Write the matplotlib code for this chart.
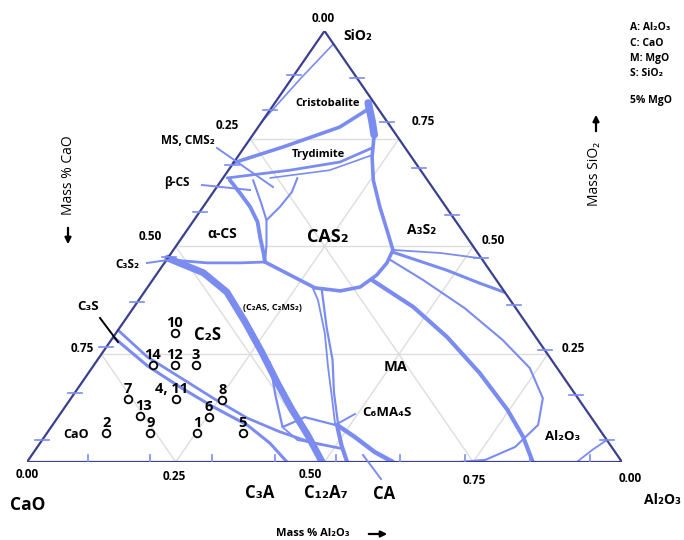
import matplotlib.pyplot as plt
import numpy as np

plt.rcParams['font.family'] = ['Open Sans', 'DejaVu Sans']

# Liquidus boundaries as (Al2O3, SiO2) mass fractions, CaO is the remainder
cristobalite_edge = [(0.03, 0.97), (0.015, 0.89), (0.0, 0.79)]
cristobalite_tridymite = [(0.0, 0.694), (0.065, 0.731), (0.137, 0.777), (0.163, 0.817)]
tridymite_lower = [(0.007, 0.659), (0.103, 0.677), (0.178, 0.696), (0.216, 0.729)]
tridymite_lower_2 = [(0.079, 0.659), (0.170, 0.677), (0.224, 0.712)]
silica_mullite = [(0.157, 0.833), (0.204, 0.759), (0.226, 0.708), (0.255, 0.654),
                  (0.297, 0.592), (0.336, 0.538), (0.369, 0.492)]
silica_wedge = [(0.157, 0.833), (0.185, 0.790), (0.204, 0.759)]
cas2_bowl = [(0.168, 0.464), (0.225, 0.434), (0.282, 0.404), (0.328, 0.397),
             (0.357, 0.406), (0.371, 0.434), (0.374, 0.462), (0.369, 0.492)]
c3s2_line = [(0.006, 0.469), (0.072, 0.462), (0.127, 0.462), (0.168, 0.464)]
alpha_cs_right = [(0.014, 0.654), (0.046, 0.624), (0.079, 0.592), (0.109, 0.557),
                  (0.132, 0.520), (0.155, 0.485), (0.168, 0.464)]
alpha_cs_inner = [(0.053, 0.654), (0.093, 0.601), (0.122, 0.561), (0.151, 0.503), (0.168, 0.464)]
wollastonite_loop = [(0.122, 0.561), (0.129, 0.592), (0.132, 0.626), (0.125, 0.659)]
c2s_boundary = [(0.0, 0.473), (0.077, 0.439), (0.139, 0.394), (0.204, 0.325), (0.267, 0.255),
                (0.333, 0.179), (0.385, 0.121), (0.440, 0.063), (0.496, 0.0)]
c3s_upper = [(0.0, 0.306), (0.080, 0.244), (0.158, 0.197), (0.239, 0.148), (0.319, 0.102),
             (0.390, 0.070), (0.453, 0.046), (0.510, 0.032)]
c3s_lower = [(0.0, 0.29), (0.091, 0.223), (0.170, 0.174), (0.249, 0.128), (0.327, 0.086),
             (0.386, 0.044), (0.437, 0.0)]
c2as_right_a = [(0.275, 0.408), (0.301, 0.376), (0.351, 0.299), (0.396, 0.220),
                (0.441, 0.144), (0.475, 0.086)]
c2as_right_b = [(0.296, 0.399), (0.347, 0.313), (0.395, 0.237), (0.436, 0.160), (0.480, 0.086)]
c2as_lower = [(0.292, 0.232), (0.340, 0.155), (0.389, 0.081), (0.415, 0.104), (0.475, 0.086)]
c2as_spur = [(0.389, 0.081), (0.429, 0.051), (0.475, 0.040)]
ma_ca = [(0.478, 0.086), (0.522, 0.058), (0.573, 0.023), (0.615, 0.0)]
c6ma4s_c12a7 = [(0.478, 0.086), (0.509, 0.039), (0.538, 0.0)]
ma_al2o3 = [(0.369, 0.422), (0.469, 0.360), (0.561, 0.290), (0.658, 0.206),
            (0.747, 0.121), (0.805, 0.058), (0.850, 0.0)]
al2o3_loop = [(0.376, 0.469), (0.455, 0.422), (0.557, 0.357), (0.658, 0.283), (0.736, 0.218),
              (0.793, 0.148), (0.816, 0.086), (0.803, 0.035), (0.768, 0.005), (0.728, 0.0)]
a3s2_upper = [(0.369, 0.492), (0.452, 0.485), (0.524, 0.473)]
a3s2_lower = [(0.371, 0.487), (0.483, 0.445), (0.553, 0.415), (0.605, 0.394)]
corundum_corner = [(0.924, 0.0), (0.936, 0.028), (0.949, 0.051)]

# arrow marks along the three binary edges
bottom_ticks = [0.103, 0.207, 0.311, 0.417, 0.52, 0.627, 0.736, 0.845, 0.946]  # Al2O3
left_ticks = [0.051, 0.160, 0.267, 0.371, 0.476, 0.580, 0.689, 0.817, 0.898]   # SiO2
right_ticks = [0.051, 0.155, 0.260, 0.364, 0.473, 0.573, 0.682, 0.789, 0.891]  # SiO2

# slag samples
sample_labels = ['1', '2', '3', '4, 11', '5', '6', '7', '8', '9', '10', '12', '13', '14']
sample_al2o3 = [0.252, 0.100, 0.171, 0.177, 0.329, 0.254, 0.097, 0.256, 0.174, 0.099, 0.136, 0.137, 0.099]
sample_sio2 = [0.067, 0.067, 0.225, 0.146, 0.067, 0.104, 0.146, 0.144, 0.067, 0.299, 0.225, 0.107, 0.225]

grid_levels = [0.25, 0.5, 0.75]

LINE = '#7b8cf1'
EDGE = '#3b3f8f'
GRID = '#dddddd'

W, H = 684, 540
X0, Y0, XW, YH = 27, 462, 595, 431  # triangle frame in pixels

fig = plt.figure(figsize=(W / 100, H / 100), dpi=100)
ax = fig.add_axes([X0 / W, (H - Y0) / H, XW / W, YH / H])
ax.set_xlim(0, 1)
ax.set_ylim(0, 1)
ax.axis('off')


def tern(a, s):
    a = np.asarray(a, dtype=float)
    s = np.asarray(s, dtype=float)
    return a + s / 2, s


def pix(x, y):
    return (x - X0) / XW, (Y0 - y) / YH


def draw(points, lw):
    a, s = zip(*points)
    x, y = tern(a, s)
    ax.plot(x, y, color=LINE, lw=lw, solid_capstyle='round', solid_joinstyle='round', zorder=2)


# grid
for c in grid_levels:
    ax.plot(*tern([0, 1 - c], [c, c]), color=GRID, lw=1, zorder=0)
    ax.plot(*tern([c, c], [0, 1 - c]), color=GRID, lw=1, zorder=0)
    ax.plot(*tern([1 - c, 0], [0, 1 - c]), color=GRID, lw=1, zorder=0)

# boundaries
for pts, lw in [(cristobalite_edge, 1.2), (cristobalite_tridymite, 2.6), (tridymite_lower, 2.0),
                (tridymite_lower_2, 1.2), (silica_mullite, 2.6), (silica_wedge, 5.5),
                (cas2_bowl, 2.6), (c3s2_line, 2.0), (alpha_cs_right, 2.8), (alpha_cs_inner, 1.5),
                (wollastonite_loop, 1.5), (c2s_boundary, 5.0), (c3s_upper, 2.0), (c3s_lower, 2.2),
                (c2as_right_a, 1.3), (c2as_right_b, 1.6), (c2as_lower, 1.6), (c2as_spur, 1.3),
                (ma_ca, 3.2), (c6ma4s_c12a7, 3.0), (ma_al2o3, 3.0), (al2o3_loop, 1.5),
                (a3s2_upper, 1.3), (a3s2_lower, 2.2), (corundum_corner, 1.3)]:
    draw(pts, lw)

# triangle edges
ax.plot(*tern([0, 1, 0, 0], [0, 0, 1, 0]), color=EDGE, lw=1.6, zorder=3)

# edge marks
hx, hy = 7 / XW, 7 / YH
for a in bottom_ticks:
    x, y = tern(a, 0)
    ax.plot([x, x], [y - hy * 0.6, y + hy], color=LINE, lw=1.2, zorder=3)
for s in left_ticks:
    x, y = tern(0, s)
    ax.plot([x - hx, x + hx], [y, y], color=LINE, lw=1.2, zorder=3)
for s in right_ticks:
    x, y = tern(1 - s, s)
    ax.plot([x - hx, x + hx], [y, y], color=LINE, lw=1.2, zorder=3)

# samples
sx, sy = tern(sample_al2o3, sample_sio2)
ax.plot(sx, sy, 'o', ms=5.5, mfc='white', mec='black', mew=1.3, ls='none', zorder=5)
for lab, x, y in zip(sample_labels, sx, sy):
    dx = {'4, 11': -4, '13': 3}.get(lab, 0)
    ax.annotate(lab, (x, y), xytext=(dx, 10), textcoords='offset pixels', ha='center', va='center',
                fontsize=10.5, fontweight='bold', zorder=6)

bold = dict(fontweight='bold', ha='center', va='center')

# tick values
for t, (px_, py_) in [('0.00', (323, 19)), ('0.25', (227, 126)), ('0.50', (150, 237)), ('0.75', (82, 349)),
                      ('0.00', (27, 474)), ('0.25', (174, 477)), ('0.50', (310, 475)), ('0.75', (474, 481)),
                      ('0.00', (630, 479)), ('0.75', (423, 122)), ('0.50', (493, 241)), ('0.25', (573, 348))]:
    ax.text(*pix(px_, py_), t, fontsize=8.5, **bold)

# phase fields
for t, (px_, py_), fs in [('Cristobalite', (328, 104), 8), ('Trydimite', (318, 155), 8),
                          ('MS, CMS₂', (188, 141), 8.5), ('β-CS', (177, 183), 8.5),
                          ('α-CS', (222, 234), 10), ('CAS₂', (328, 237), 13),
                          ('A₃S₂', (422, 230), 10), ('C₃S₂', (127, 264), 8.5),
                          ('(C₂AS, C₂MS₂)', (272, 308), 6.5), ('C₂S', (208, 335), 12),
                          ('C₃S', (88, 306), 9.5), ('CaO', (76, 434), 9), ('MA', (396, 367), 10.5),
                          ('C₆MA₄S', (387, 413), 9.5), ('Al₂O₃', (563, 436), 9.5),
                          ('C₃A', (260, 493), 12), ('C₁₂A₇', (326, 493), 12),
                          ('CA', (384, 494), 12), ('CaO', (28, 505), 12.5),
                          ('Al₂O₃', (662, 500), 10), ('SiO₂', (358, 36), 10)]:
    ax.text(*pix(px_, py_), t, fontsize=fs, **bold)

# leader lines
for (x1, y1), (x2, y2), col in [((217, 148), (273, 187), LINE), ((202, 185), (250, 190), LINE),
                                ((147, 263), (168, 260), LINE), ((100, 318), (118, 342), 'black'),
                                ((355, 414), (337, 424), LINE), ((381, 479), (363, 455), LINE)]:
    ax.plot(*zip(pix(x1, y1), pix(x2, y2)), color=col, lw=1.4, zorder=4, clip_on=False)

# legend block
for t, py_ in [('A: Al₂O₃', 28), ('C: CaO', 44), ('M: MgO', 59), ('S: SiO₂', 74), ('5% MgO', 101)]:
    ax.text(*pix(630, py_), t, fontsize=7.5, fontweight='bold', ha='left', va='center')

# axis titles with arrows
arrow = dict(arrowstyle='-|>', color='black', lw=1.6, mutation_scale=9)
ax.text(*pix(68, 175), 'Mass % CaO', rotation=90, fontsize=10, ha='center', va='center')
ax.annotate('', xy=pix(68, 247), xytext=pix(68, 225), arrowprops=arrow, annotation_clip=False)
ax.text(*pix(594, 174), 'Mass SiO₂', rotation=90, fontsize=10, ha='center', va='center')
ax.annotate('', xy=pix(596, 112), xytext=pix(596, 134), arrowprops=arrow, annotation_clip=False)
ax.text(*pix(313, 534), 'Mass % Al₂O₃', fontsize=8, **bold)
ax.annotate('', xy=pix(390, 534), xytext=pix(366, 534), arrowprops=arrow, annotation_clip=False)

fig.savefig('out.png', dpi=100)
